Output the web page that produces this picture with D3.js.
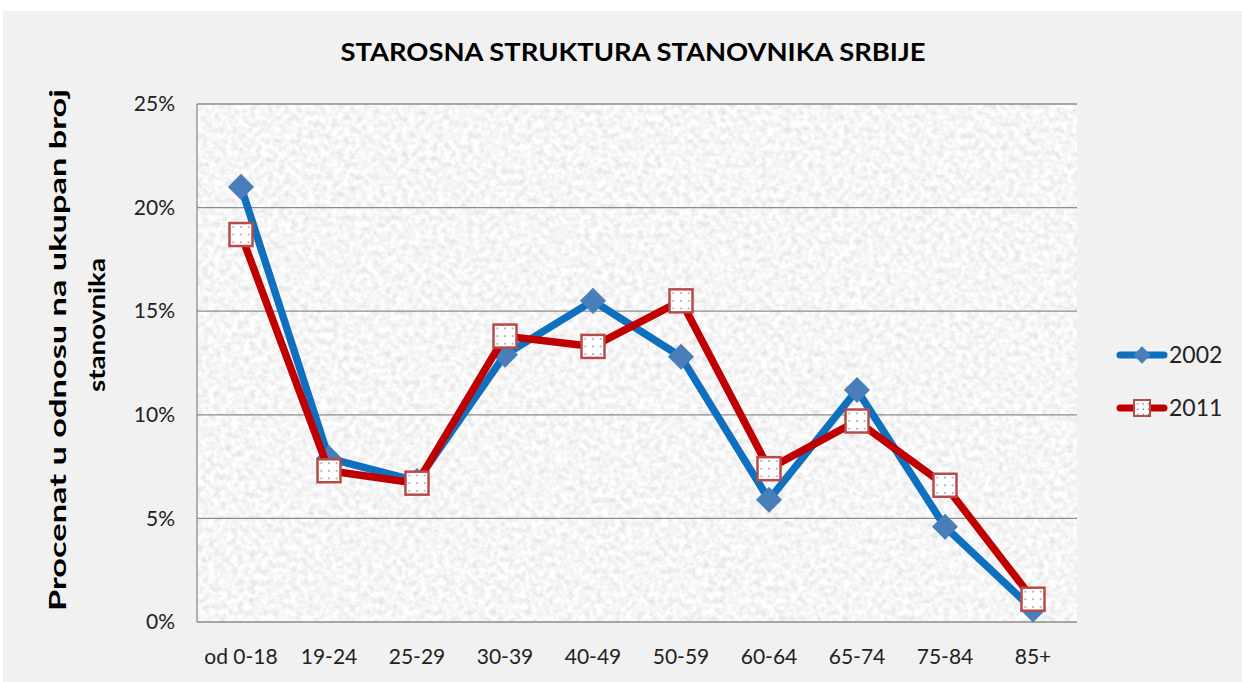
<!DOCTYPE html>
<html>
<head>
<meta charset="utf-8">
<script src="https://cdn.jsdelivr.net/npm/d3@7"></script>
<style>
  body { margin: 0; background: #fff; }
  text { font-family: "Lato", sans-serif; }
</style>
</head>
<body>
<div id="chart"></div>
<script>
var categories = ["od 0-18", "19-24", "25-29", "30-39", "40-49", "50-59", "60-64", "65-74", "75-84", "85+"];
var values2002 = [21.0, 7.9, 6.8, 12.9, 15.5, 12.8, 5.9, 11.2, 4.6, 0.6];
var values2011 = [18.7, 7.3, 6.7, 13.8, 13.3, 15.5, 7.4, 9.7, 6.6, 1.1];
var yTicks = [0, 5, 10, 15, 20, 25];
var seriesNames = ["2002", "2011"];

var W = 1242, H = 682;
var margin = { top: 104, left: 197 },
  width = 1077 - margin.left,
  height = 622 - margin.top;

var svg = d3.select("#chart")
  .append("svg")
  .attr("width", W)
  .attr("height", H);

var defs = svg.append("defs");

// granite texture for plot area
var f = defs.append("filter").attr("id", "granite")
  .attr("x", 0).attr("y", 0).attr("width", 1).attr("height", 1);
f.append("feTurbulence")
  .attr("type", "fractalNoise")
  .attr("baseFrequency", 0.17)
  .attr("numOctaves", 3)
  .attr("seed", 7)
  .attr("result", "noise");
f.append("feColorMatrix")
  .attr("in", "noise")
  .attr("type", "matrix")
  .attr("values", "0.42 0 0 0 0.71  0.42 0 0 0 0.71  0.42 0 0 0 0.71  0 0 0 0 1");

// dotted marker fill, 3x3 dots per marker
var pat = defs.append("pattern").attr("id", "dots")
  .attr("patternUnits", "objectBoundingBox")
  .attr("width", 1 / 3).attr("height", 1 / 3);
pat.append("rect").attr("width", 10).attr("height", 10).attr("fill", "#fff");
pat.append("rect").attr("x", 3.2).attr("y", 3.2).attr("width", 1.3).attr("height", 1.3).attr("fill", "#55607a");

// outer chart background
svg.append("rect")
  .attr("x", 3).attr("y", 11)
  .attr("width", W - 3).attr("height", H - 11)
  .attr("fill", "#f1f1f1");

svg.append("text")
  .attr("x", 633)
  .attr("y", 61)
  .attr("text-anchor", "middle")
  .attr("textLength", 585)
  .attr("lengthAdjust", "spacingAndGlyphs")
  .style("font-size", "24px")
  .style("font-weight", "bold")
  .attr("fill", "#000")
  .text("STAROSNA STRUKTURA STANOVNIKA SRBIJE");

var g = svg.append("g")
  .attr("transform", "translate(" + margin.left + "," + margin.top + ")");

// plot area background
g.append("rect")
  .attr("width", width).attr("height", height)
  .attr("fill", "#ececec")
  .attr("filter", "url(#granite)");

var x = d3.scaleBand()
  .domain(categories)
  .range([0, width]);

var y = d3.scaleLinear()
  .domain([0, 25])
  .range([height, 0]);

// gridlines
g.append("g")
  .selectAll("line")
  .data(yTicks)
  .enter()
  .append("line")
  .attr("x1", 0).attr("x2", width)
  .attr("y1", function (d) { return y(d); })
  .attr("y2", function (d) { return y(d); })
  .attr("stroke", "#8c8c8c")
  .attr("stroke-width", 1.3);

g.append("line")
  .attr("x1", 0).attr("x2", 0)
  .attr("y1", 0).attr("y2", height)
  .attr("stroke", "#8c8c8c")
  .attr("stroke-width", 1.3);

var yAxis = g.append("g")
  .call(d3.axisLeft(y).tickValues(yTicks).tickSize(0).tickPadding(22)
    .tickFormat(function (d) { return d + "%"; }));
yAxis.select(".domain").remove();
yAxis.selectAll("text")
  .style("font-size", "21px")
  .attr("fill", "#222");

var xAxis = g.append("g")
  .attr("transform", "translate(0," + height + ")")
  .call(d3.axisBottom(x).tickSize(0).tickPadding(27));
xAxis.select(".domain").remove();
xAxis.selectAll("text")
  .style("font-size", "21px")
  .attr("fill", "#222");

// y axis title, two lines
svg.append("text")
  .attr("transform", "translate(66,350) rotate(-90)")
  .attr("text-anchor", "middle")
  .style("font-size", "23px")
  .style("font-weight", "bold")
  .attr("textLength", 522)
  .attr("lengthAdjust", "spacingAndGlyphs")
  .text("Procenat u odnosu  na ukupan broj");
svg.append("text")
  .attr("transform", "translate(105,325) rotate(-90)")
  .attr("text-anchor", "middle")
  .style("font-size", "23px")
  .style("font-weight", "bold")
  .attr("textLength", 134)
  .attr("lengthAdjust", "spacingAndGlyphs")
  .text("stanovnika");

var line = d3.line()
  .x(function (d, i) { return x(categories[i]) + x.bandwidth() / 2; })
  .y(function (d) { return y(d); });

var blue = "#0f70bf", red = "#c00000";

g.append("path")
  .datum(values2002)
  .attr("fill", "none")
  .attr("stroke", blue)
  .attr("stroke-width", 7.5)
  .attr("stroke-linejoin", "round")
  .attr("d", line);

g.append("g")
  .selectAll("path")
  .data(values2002)
  .enter()
  .append("path")
  .attr("d", d3.symbol().type(d3.symbolSquare).size(340))
  .attr("transform", function (d, i) {
    return "translate(" + (x(categories[i]) + x.bandwidth() / 2) + "," + y(d) + ") rotate(45)";
  })
  .attr("fill", "#4a7ebb");

g.append("path")
  .datum(values2011)
  .attr("fill", "none")
  .attr("stroke", red)
  .attr("stroke-width", 7.5)
  .attr("stroke-linejoin", "round")
  .attr("d", line);

g.append("g")
  .selectAll("rect")
  .data(values2011)
  .enter()
  .append("rect")
  .attr("x", function (d, i) { return x(categories[i]) + x.bandwidth() / 2 - 11.5; })
  .attr("y", function (d) { return y(d) - 11.5; })
  .attr("width", 23)
  .attr("height", 23)
  .attr("fill", "url(#dots)")
  .attr("stroke", "#b94a48")
  .attr("stroke-width", 2.5);

// legend
var legend = svg.append("g");
var legY = [355, 408];
var colors = [blue, red];
seriesNames.forEach(function (name, i) {
  var lg = legend.append("g").attr("transform", "translate(1117," + legY[i] + ")");
  lg.append("line")
    .attr("x1", 3).attr("x2", 47)
    .attr("stroke", colors[i])
    .attr("stroke-width", 7)
    .attr("stroke-linecap", "round");
  if (i === 0) {
    lg.append("path")
      .attr("d", d3.symbol().type(d3.symbolSquare).size(150))
      .attr("transform", "translate(25,0) rotate(45)")
      .attr("fill", "#4a7ebb");
  } else {
    lg.append("rect")
      .attr("x", 17).attr("y", -8)
      .attr("width", 16).attr("height", 16)
      .attr("fill", "url(#dots)")
      .attr("stroke", "#b94a48")
      .attr("stroke-width", 2);
  }
  lg.append("text")
    .attr("x", 52)
    .attr("y", 8)
    .style("font-size", "23px")
    .attr("fill", "#222")
    .text(name);
});
</script>
</body>
</html>
